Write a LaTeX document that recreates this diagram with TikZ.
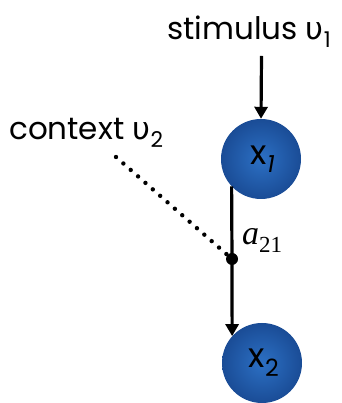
\documentclass[tikz,border=0pt]{standalone}
\usepackage{fontspec}
\setmainfont{Poppins}
\newfontfamily\grk{DejaVu Sans}
\newfontfamily\tms{Liberation Serif}
\usetikzlibrary{arrows.meta}
\definecolor{ballin}{RGB}{44,112,196}
\definecolor{ballout}{RGB}{26,76,150}
\tikzset{
  ball/.style={circle, minimum size=80pt, inner sep=0pt, shade, inner color=ballin, outer color=ballout, font=\fontsize{34}{34}\selectfont},
  lbl/.style={font=\fontsize{31}{31}\selectfont, inner sep=0pt},
  conn/.style={line width=3.2pt, -{Triangle[length=12pt,width=13pt]}},
}
\begin{document}
\begin{tikzpicture}[x=1pt,y=1pt]
\useasboundingbox (0,0) rectangle (341,403);
\node[ball] (x1) at (261,244) {\hspace*{4pt}x\textsubscript{\textit{1}}};
\node[ball] (x2) at (262,40) {\hspace*{4pt}x\textsubscript{2}};
\node[lbl, anchor=base west] (stim) at (167,363) {stimulus {\grk υ}\textsubscript{1}};
\node[lbl, anchor=base west] (ctx) at (9,263) {context {\grk υ}\textsubscript{2}};
\coordinate (s0) at (261.5,347);
\draw[conn] (s0) -- (x1.north);
\coordinate (d) at (232,144);
\draw[line width=3.2pt] (x1.223.5) -- (d);
\draw[conn] (d) -- (x2.138.6);
\fill (d) circle (6pt);
\coordinate (c0) at (116,246);
\draw[line width=4.4pt, line cap=round, dash pattern=on 0pt off 9.8pt] (c0) -- (d);
\node[anchor=base west, inner sep=0pt, font=\tms\fontsize{34}{34}\selectfont] (a) at (242,158) {\textit{a}\raisebox{-8pt}{\fontsize{23}{23}\selectfont 21}};
\end{tikzpicture}
\end{document}
